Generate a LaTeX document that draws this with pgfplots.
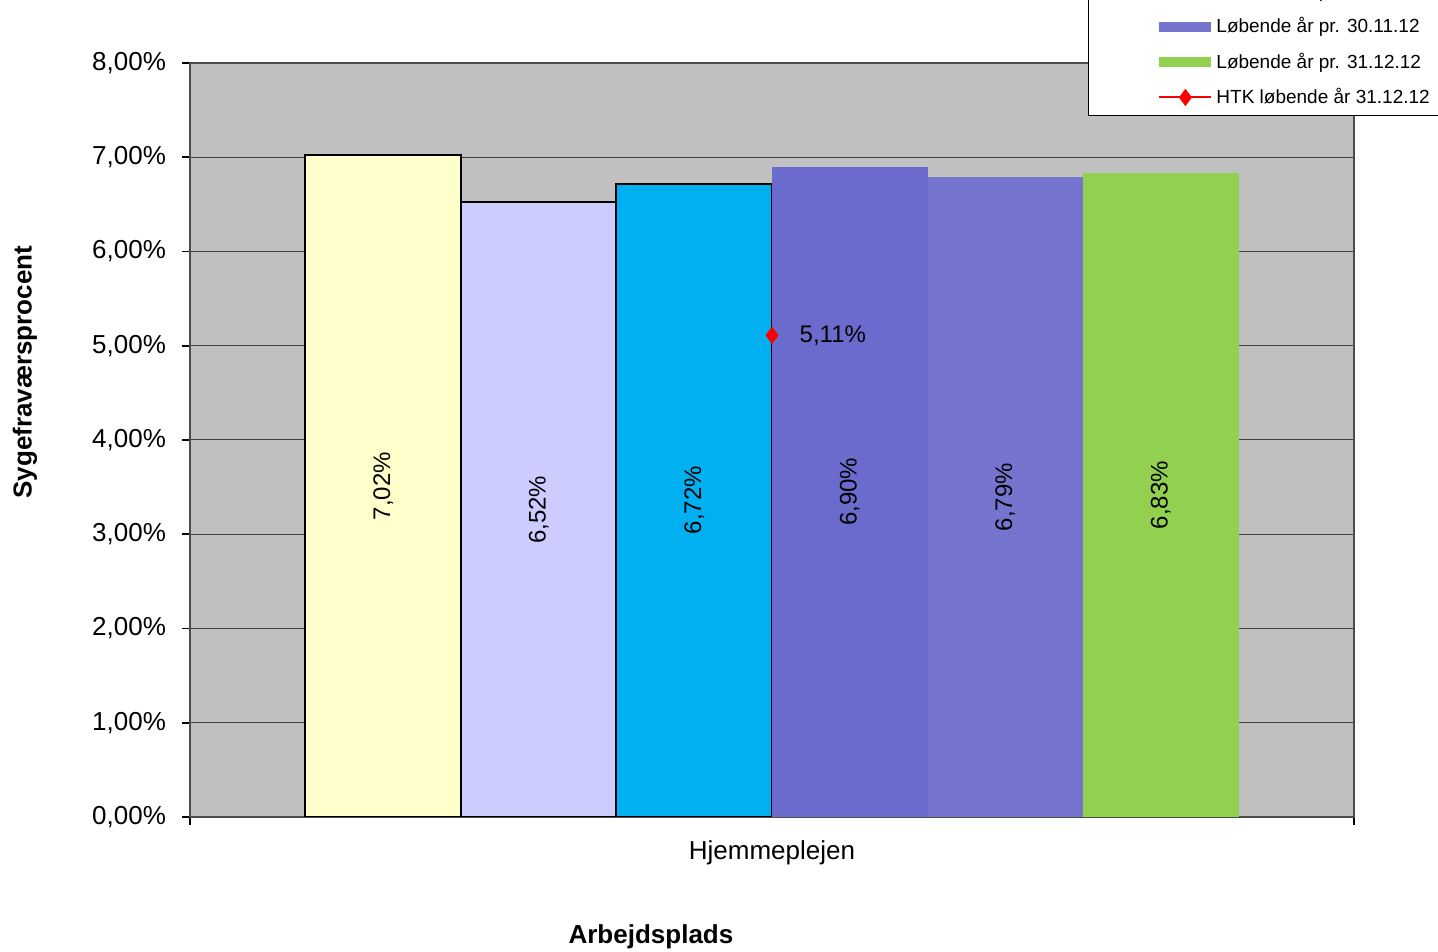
\documentclass[border=0pt]{standalone}
\usepackage{fontspec}
\setmainfont{Liberation Sans}
\usepackage{pgfplots}
\usepackage{pgfplotstable}
\pgfplotsset{compat=1.18}

\definecolor{plotbg}{RGB}{192,192,192}
\definecolor{cA}{RGB}{255,255,204}
\definecolor{cB}{RGB}{204,204,255}
\definecolor{cC}{RGB}{0,176,240}
\definecolor{cD}{RGB}{107,107,205}
\definecolor{cE}{RGB}{117,117,208}
\definecolor{cF}{RGB}{146,208,80}

\pgfplotsset{
  swatch/.style={legend image code/.code={\fill[##1,/tikz/.cd] (0pt,-2.5pt) rectangle (26pt,2.5pt);}},
  redline/.style={legend image code/.code={\draw[mark repeat=2,mark phase=2,##1] plot coordinates {(0pt,0pt)(13pt,0pt)(26pt,0pt)};}},
  mybar/.style={ybar, bar shift=0pt, bar width=0.1336, fill=#1, swatch},
}

% bar positions and values (%)
\pgfplotstableread{
x v
-0.334 7.02
-0.2004 6.52
-0.0668 6.72
0.0668 6.90
0.2004 6.79
0.334 6.83
}\bartab

\begin{document}
\begin{tikzpicture}
\begin{axis}[
    name=ax,
    scale only axis,
    width=582pt, height=377pt,
    xmin=-0.5, xmax=0.5,
    ymin=0, ymax=8,
    axis background/.style={fill=plotbg},
    axis line style={black!70, line width=0.8pt},
    /pgf/number format/assume math mode=true,
    ytick={0,1,...,8},
    yticklabel={\pgfmathprintnumber[fixed,fixed zerofill,precision=2,use comma]{\tick}\%},
    xtick={-0.5,0.5},
    xticklabels={},
    extra x ticks={0},
    extra x tick labels={Hjemmeplejen},
    extra x tick style={major tick length=0pt, grid=none},
    tick align=outside,
    xtick pos=bottom, ytick pos=left,
    major tick length=4pt,
    tick style={black, line width=0.8pt},
    ymajorgrids,
    grid style={black!75, line width=0.5pt},
    tick label style={font=\fontsize{13}{15}\selectfont},
    yticklabel style={xshift=-4.5pt},
    xticklabel style={yshift=-8.5pt},
    ylabel={Sygefraværsprocent},
    xlabel={Arbejdsplads},
    label style={font=\bfseries\fontsize{13}{15}\selectfont},
    ylabel style={at={(axis description cs:-0.1418,0.59)}, anchor=center},
    xlabel style={at={(axis description cs:0.396,-0.159)}, anchor=center},
    legend style={at={(axis description cs:0.7715,0.9297)}, anchor=south west,
        draw=black, fill=white, inner xsep=35pt, inner ysep=2.5pt,
        font=\fontsize{9.5}{11}\selectfont, row sep=4.5pt},
    legend cell align=left,
]
\addplot[mybar=cA, draw=black, line width=1pt] coordinates {(-0.334,7.02)};
\addplot[mybar=cB, draw=black, line width=1pt] coordinates {(-0.2004,6.52)};
\addplot[mybar=cC, draw=black, line width=1pt] coordinates {(-0.0668,6.72)};
\addplot[mybar=cD, draw=none] coordinates {(0.0668,6.90)};
\addplot[mybar=cE, draw=none] coordinates {(0.2004,6.79)};
\addplot[mybar=cF, draw=none] coordinates {(0.334,6.83)};

% value labels in the middle of the bars
\addplot[forget plot, draw=none, mark=none, point meta=explicit,
    nodes near coords={\pgfmathprintnumber[fixed,fixed zerofill,precision=2,use comma]{\pgfplotspointmeta}\%},
    nodes near coords style={rotate=90, anchor=center, font=\fontsize{12}{14}\selectfont, black}]
    table[x=x, y expr=\thisrow{v}/2, meta=v] {\bartab};

\addplot[red, line width=1pt, mark=diamond*, mark size=3.5pt, mark options={solid, fill=red}, redline,
    nodes near coords={\pgfmathprintnumber[fixed,fixed zerofill,precision=2,use comma]{\pgfplotspointmeta}\%},
    nodes near coords style={anchor=west, xshift=10pt, font=\fontsize{12}{14}\selectfont, black}]
    coordinates {(0,5.11)};

\legend{Løbende år pr. 31.12.11, Løbende år pr. 31.08.12, Løbende år pr. 30.09.12,
        Løbende år pr. 31.10.12, Løbende år pr. 30.11.12, Løbende år pr. 31.12.12,
        HTK løbende år 31.12.12}
\end{axis}
\pgfresetboundingbox
\path[use as bounding box] ([xshift=-95pt,yshift=-67.5pt]ax.south west) rectangle ([xshift=42pt,yshift=31.5pt]ax.north east);
\end{tikzpicture}
\end{document}
